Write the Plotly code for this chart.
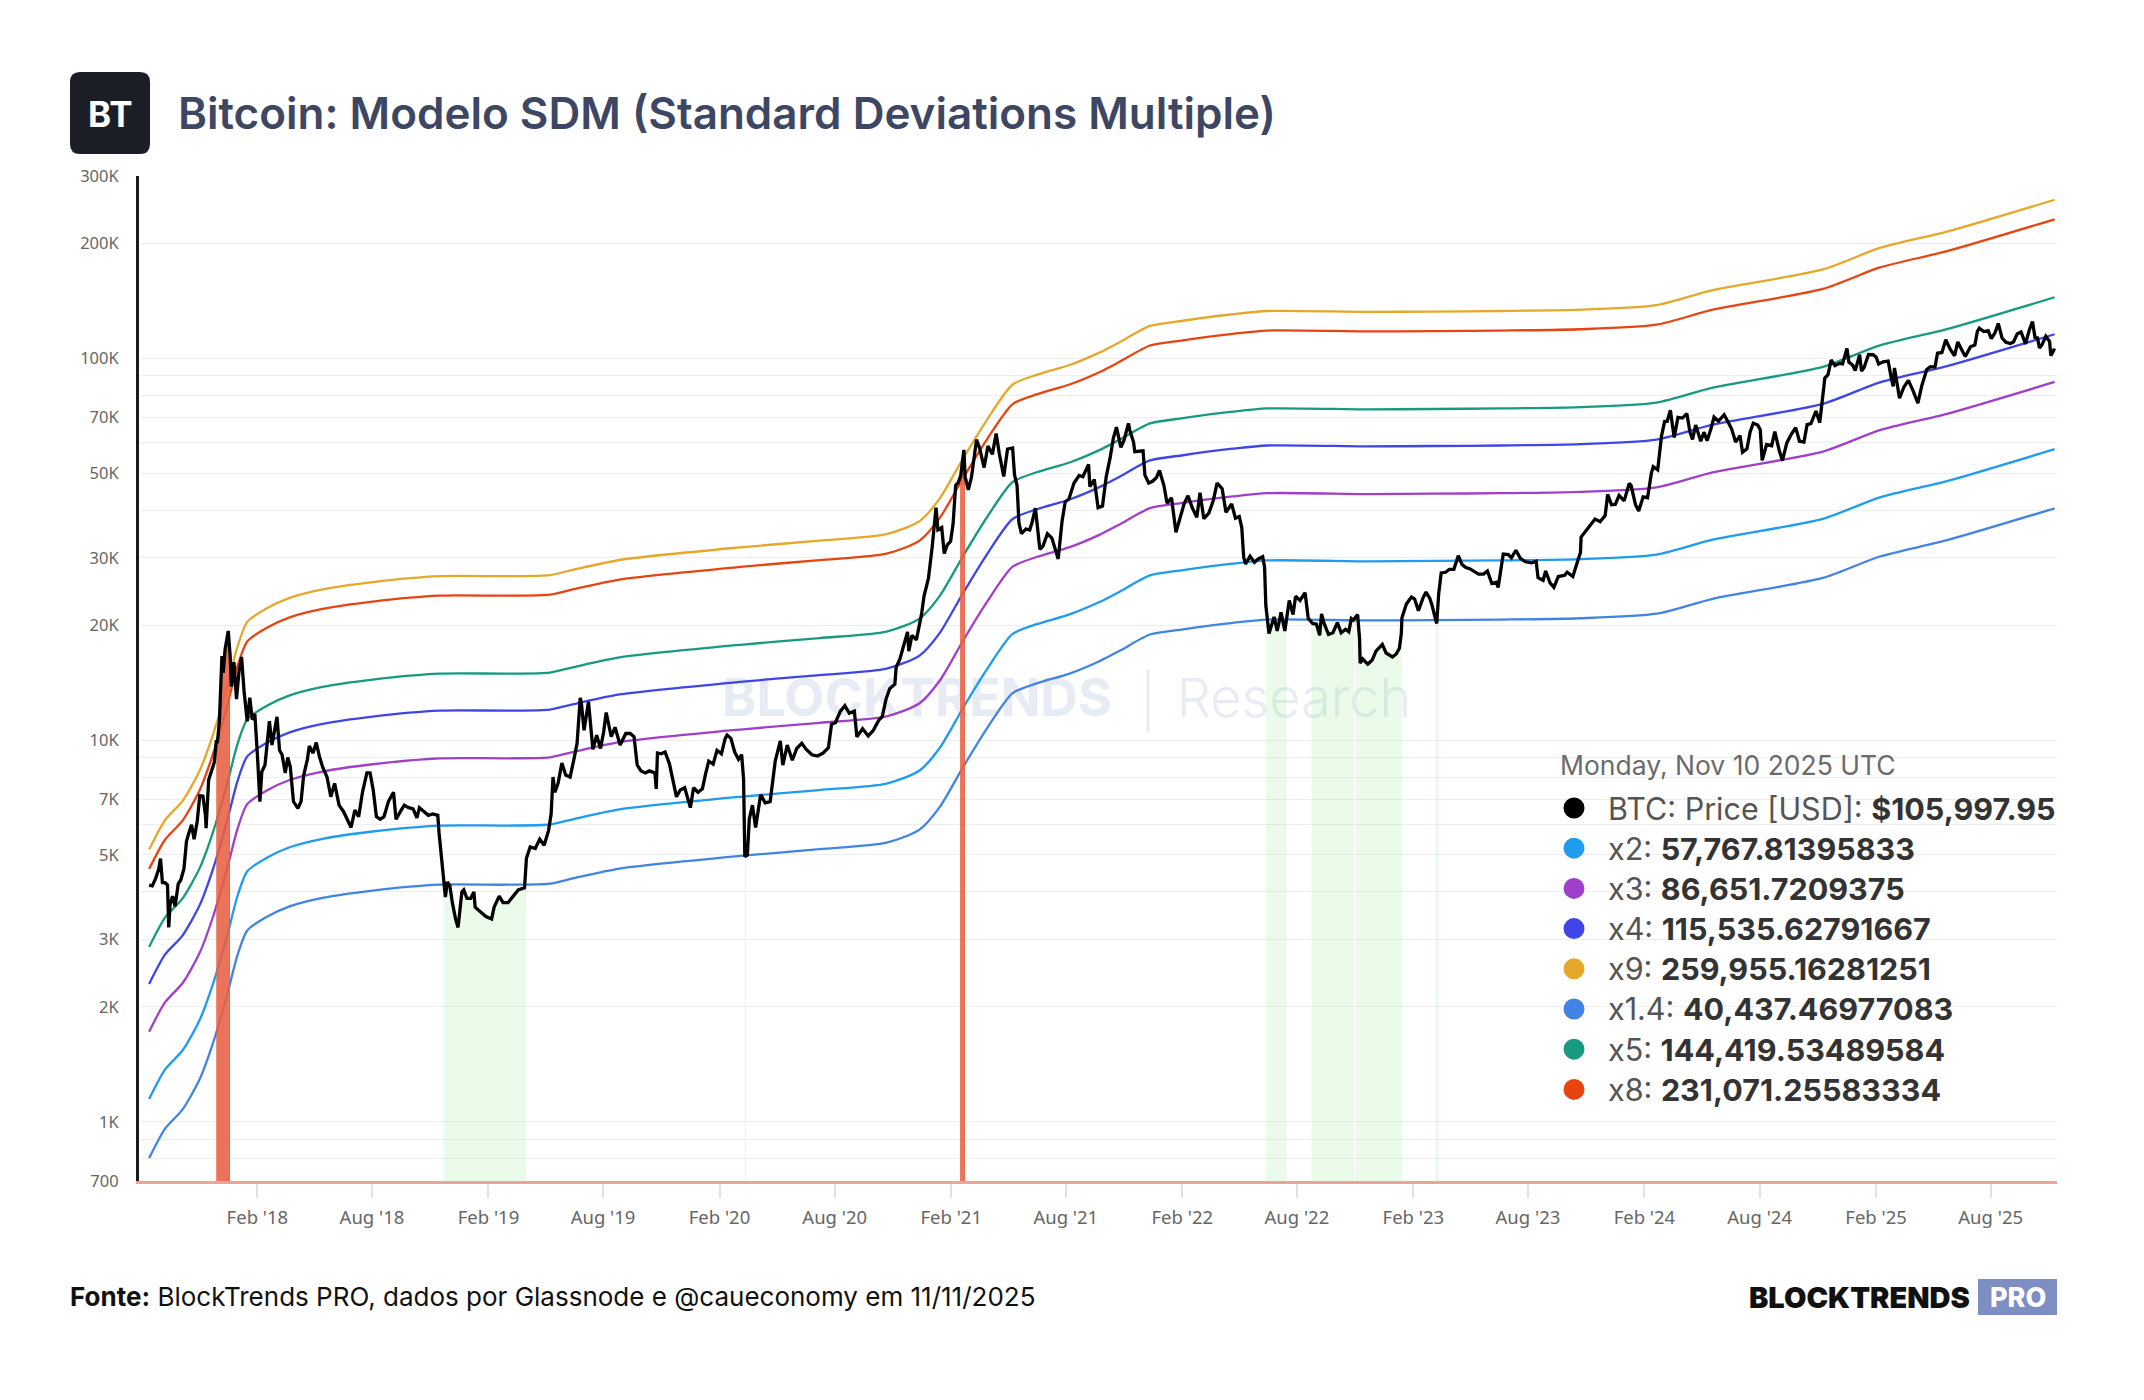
import numpy as np
import pandas as pd
import plotly.graph_objects as go

# ---------------- DATA ----------------
btc_2017 = [("2017-08-14", 4170), ("2017-08-19", 4150), ("2017-08-24", 4330), ("2017-08-29", 4580),
            ("2017-09-01", 4890), ("2017-09-04", 4230), ("2017-09-08", 4230), ("2017-09-12", 4170),
            ("2017-09-14", 3230), ("2017-09-16", 3700), ("2017-09-20", 3900), ("2017-09-24", 3670),
            ("2017-09-29", 4200), ("2017-10-03", 4300), ("2017-10-08", 4600), ("2017-10-12", 5430),
            ("2017-10-16", 5730), ("2017-10-20", 6000), ("2017-10-24", 5500), ("2017-10-29", 6130),
            ("2017-11-02", 7150), ("2017-11-07", 7130), ("2017-11-11", 6350), ("2017-11-12", 5880),
            ("2017-11-16", 7860), ("2017-11-20", 8200), ("2017-11-25", 8750), ("2017-11-28", 9900),
            ("2017-11-30", 9900), ("2017-12-03", 11200), ("2017-12-07", 16600), ("2017-12-09", 15000),
            ("2017-12-12", 17300), ("2017-12-17", 19300), ("2017-12-20", 16600), ("2017-12-22", 13800),
            ("2017-12-26", 16000), ("2017-12-30", 12800)]
btc_2018 = [("2018-01-03", 15150), ("2018-01-07", 16500), ("2018-01-11", 13400), ("2018-01-16", 11200),
            ("2018-01-20", 12900), ("2018-01-24", 11300), ("2018-01-28", 11700), ("2018-02-01", 9170),
            ("2018-02-05", 6900), ("2018-02-08", 8260), ("2018-02-13", 8600), ("2018-02-20", 11200),
            ("2018-02-24", 9700), ("2018-03-04", 11500), ("2018-03-08", 9400), ("2018-03-12", 9150),
            ("2018-03-17", 8200), ("2018-03-21", 9000), ("2018-03-25", 8500), ("2018-03-30", 6900),
            ("2018-04-06", 6620), ("2018-04-11", 6900), ("2018-04-15", 8060), ("2018-04-21", 8900),
            ("2018-04-24", 9650), ("2018-04-30", 9240), ("2018-05-05", 9850), ("2018-05-10", 9050),
            ("2018-05-15", 8500), ("2018-05-22", 8000), ("2018-05-28", 7100), ("2018-06-03", 7700),
            ("2018-06-10", 6750), ("2018-06-17", 6500), ("2018-06-24", 6150), ("2018-06-29", 5900),
            ("2018-07-05", 6550), ("2018-07-11", 6300), ("2018-07-17", 7300), ("2018-07-24", 8200),
            ("2018-07-29", 8200), ("2018-08-03", 7400), ("2018-08-08", 6300), ("2018-08-14", 6200),
            ("2018-08-20", 6300), ("2018-08-27", 6900), ("2018-09-04", 7300), ("2018-09-08", 6200),
            ("2018-09-15", 6500), ("2018-09-21", 6750), ("2018-09-28", 6650), ("2018-10-05", 6600),
            ("2018-10-11", 6250), ("2018-10-15", 6650), ("2018-10-22", 6500), ("2018-10-29", 6350),
            ("2018-11-05", 6400), ("2018-11-13", 6350), ("2018-11-15", 5700), ("2018-11-19", 4800),
            ("2018-11-22", 4400), ("2018-11-25", 3880), ("2018-11-28", 4250), ("2018-12-02", 4150),
            ("2018-12-06", 3750), ("2018-12-11", 3400), ("2018-12-15", 3230), ("2018-12-18", 3550),
            ("2018-12-21", 4000), ("2018-12-24", 4050), ("2018-12-29", 3850)]
btc_2019 = [("2019-01-04", 3850), ("2019-01-09", 4000), ("2019-01-11", 3650), ("2019-01-20", 3550),
            ("2019-01-28", 3450), ("2019-02-06", 3400), ("2019-02-10", 3650), ("2019-02-18", 3900),
            ("2019-02-24", 3750), ("2019-03-04", 3750), ("2019-03-12", 3900), ("2019-03-20", 4050),
            ("2019-03-30", 4100), ("2019-04-02", 4900), ("2019-04-08", 5250), ("2019-04-16", 5200),
            ("2019-04-23", 5500), ("2019-04-30", 5300), ("2019-05-07", 5800), ("2019-05-11", 6400),
            ("2019-05-14", 8000), ("2019-05-17", 7300), ("2019-05-22", 7700), ("2019-05-28", 8700),
            ("2019-06-03", 8100), ("2019-06-10", 8000), ("2019-06-16", 8900), ("2019-06-21", 9800),
            ("2019-06-26", 12900), ("2019-06-28", 12400), ("2019-07-02", 10600), ("2019-07-09", 12600),
            ("2019-07-16", 9450), ("2019-07-22", 10300), ("2019-07-28", 9500), ("2019-08-02", 10500),
            ("2019-08-06", 11800), ("2019-08-14", 10200), ("2019-08-20", 10800), ("2019-08-28", 9700),
            ("2019-09-06", 10400), ("2019-09-13", 10400), ("2019-09-19", 10200), ("2019-09-24", 8600),
            ("2019-09-30", 8300), ("2019-10-07", 8200), ("2019-10-13", 8300), ("2019-10-22", 8200),
            ("2019-10-24", 7450), ("2019-10-26", 9250), ("2019-11-01", 9200), ("2019-11-07", 9300),
            ("2019-11-14", 8650), ("2019-11-22", 7600), ("2019-11-25", 7100), ("2019-12-01", 7400),
            ("2019-12-08", 7500), ("2019-12-17", 6650), ("2019-12-22", 7500), ("2019-12-29", 7300)]
btc_2020 = [("2020-01-05", 7450), ("2020-01-10", 8150), ("2020-01-15", 8800), ("2020-01-22", 8650),
            ("2020-01-28", 9400), ("2020-02-04", 9200), ("2020-02-10", 10100), ("2020-02-13", 10300),
            ("2020-02-19", 10100), ("2020-02-25", 9300), ("2020-03-02", 8900), ("2020-03-07", 9150),
            ("2020-03-10", 7900), ("2020-03-12", 4950), ("2020-03-16", 5000), ("2020-03-19", 6200),
            ("2020-03-24", 6750), ("2020-03-29", 5900), ("2020-04-06", 7200), ("2020-04-13", 6850),
            ("2020-04-21", 6900), ("2020-04-29", 8800), ("2020-05-07", 9950), ("2020-05-11", 8600),
            ("2020-05-18", 9700), ("2020-05-26", 8850), ("2020-06-02", 9500), ("2020-06-10", 9800),
            ("2020-06-17", 9450), ("2020-06-26", 9150), ("2020-07-05", 9080), ("2020-07-14", 9250),
            ("2020-07-22", 9550), ("2020-07-27", 11000), ("2020-08-02", 11100), ("2020-08-10", 11900),
            ("2020-08-17", 12300), ("2020-08-24", 11750), ("2020-09-01", 11900), ("2020-09-05", 10200),
            ("2020-09-14", 10700), ("2020-09-23", 10250), ("2020-10-01", 10600), ("2020-10-10", 11300),
            ("2020-10-15", 11500), ("2020-10-21", 12800), ("2020-10-27", 13650), ("2020-11-04", 14000),
            ("2020-11-06", 15500), ("2020-11-12", 16300), ("2020-11-18", 17800), ("2020-11-24", 19200),
            ("2020-11-26", 17100), ("2020-12-01", 18800), ("2020-12-08", 18300), ("2020-12-16", 21300),
            ("2020-12-20", 23800), ("2020-12-27", 26500)]
btc_2021 = [("2021-01-02", 32100), ("2021-01-08", 40600), ("2021-01-11", 35500), ("2021-01-17", 36000),
            ("2021-01-21", 30800), ("2021-01-26", 32500), ("2021-01-31", 33100), ("2021-02-04", 36900),
            ("2021-02-08", 46400), ("2021-02-12", 47200), ("2021-02-16", 49200), ("2021-02-21", 57500),
            ("2021-02-23", 48900), ("2021-02-28", 45200), ("2021-03-05", 48800), ("2021-03-13", 61200),
            ("2021-03-18", 58000), ("2021-03-25", 51700), ("2021-03-31", 58900), ("2021-04-07", 56000),
            ("2021-04-13", 63500), ("2021-04-18", 56200), ("2021-04-25", 49000), ("2021-05-01", 57800),
            ("2021-05-09", 58200), ("2021-05-12", 49500), ("2021-05-16", 46400), ("2021-05-19", 37000),
            ("2021-05-23", 34700), ("2021-05-30", 35700), ("2021-06-05", 35500), ("2021-06-09", 37300),
            ("2021-06-14", 40500), ("2021-06-21", 31600), ("2021-06-26", 32200), ("2021-07-03", 34700),
            ("2021-07-10", 33800), ("2021-07-15", 31800), ("2021-07-20", 29800), ("2021-07-26", 37300),
            ("2021-07-31", 42000), ("2021-08-06", 42800), ("2021-08-14", 47100), ("2021-08-22", 49300),
            ("2021-08-28", 48900), ("2021-09-06", 52700), ("2021-09-08", 46100), ("2021-09-15", 48100),
            ("2021-09-21", 40600), ("2021-09-28", 41000), ("2021-10-04", 49100), ("2021-10-10", 54800),
            ("2021-10-15", 61600), ("2021-10-20", 66000), ("2021-10-27", 58400), ("2021-11-01", 61000),
            ("2021-11-08", 67500), ("2021-11-10", 64900), ("2021-11-16", 60300), ("2021-11-18", 56900),
            ("2021-11-24", 57100), ("2021-12-01", 57200), ("2021-12-04", 49400), ("2021-12-10", 47100),
            ("2021-12-16", 47600), ("2021-12-22", 48600), ("2021-12-27", 50800)]
btc_2022 = [("2022-01-03", 46400), ("2022-01-08", 41700), ("2022-01-15", 43100), ("2022-01-22", 35000),
            ("2022-01-28", 37700), ("2022-02-04", 41600), ("2022-02-10", 43600), ("2022-02-17", 40500),
            ("2022-02-24", 38300), ("2022-03-01", 44400), ("2022-03-07", 38000), ("2022-03-15", 39300),
            ("2022-03-22", 42400), ("2022-03-28", 47100), ("2022-04-05", 45500), ("2022-04-11", 39500),
            ("2022-04-20", 41500), ("2022-04-26", 38100), ("2022-05-02", 38500), ("2022-05-06", 36000),
            ("2022-05-09", 30100), ("2022-05-12", 28900), ("2022-05-19", 30300), ("2022-05-26", 29200),
            ("2022-06-01", 29800), ("2022-06-08", 30200), ("2022-06-11", 28400), ("2022-06-13", 22500),
            ("2022-06-18", 19000), ("2022-06-22", 20000), ("2022-06-26", 21000), ("2022-07-01", 19300),
            ("2022-07-07", 21600), ("2022-07-13", 19300), ("2022-07-20", 23200), ("2022-07-26", 21300),
            ("2022-07-30", 23800), ("2022-08-06", 23200), ("2022-08-14", 24300), ("2022-08-19", 20800),
            ("2022-08-26", 20200), ("2022-09-01", 20100), ("2022-09-06", 18800), ("2022-09-09", 21400),
            ("2022-09-13", 20200), ("2022-09-20", 18900), ("2022-09-27", 19100), ("2022-10-04", 20300),
            ("2022-10-10", 19100), ("2022-10-17", 19500), ("2022-10-22", 19200), ("2022-10-26", 20800),
            ("2022-10-29", 20600), ("2022-11-05", 21300), ("2022-11-08", 18500), ("2022-11-09", 15900),
            ("2022-11-13", 16300), ("2022-11-21", 15800), ("2022-11-28", 16200), ("2022-12-04", 17100),
            ("2022-12-14", 17800), ("2022-12-20", 16900), ("2022-12-30", 16500)]
btc_2023 = [("2023-01-05", 16800), ("2023-01-10", 17400), ("2023-01-13", 19000), ("2023-01-14", 20900),
            ("2023-01-21", 22700), ("2023-01-29", 23700), ("2023-02-03", 23400), ("2023-02-09", 21800),
            ("2023-02-16", 23500), ("2023-02-21", 24400), ("2023-02-27", 23500), ("2023-03-03", 22400),
            ("2023-03-09", 20400), ("2023-03-10", 20200), ("2023-03-13", 24100), ("2023-03-17", 27400),
            ("2023-03-24", 27500), ("2023-03-30", 28000), ("2023-04-06", 28000), ("2023-04-13", 30400),
            ("2023-04-19", 28800), ("2023-04-25", 28300), ("2023-05-01", 28100), ("2023-05-08", 27700),
            ("2023-05-15", 27200), ("2023-05-23", 27200), ("2023-05-29", 27700), ("2023-06-05", 25700),
            ("2023-06-12", 25900), ("2023-06-15", 25100), ("2023-06-20", 28300), ("2023-06-23", 30700),
            ("2023-07-01", 30600), ("2023-07-06", 30000), ("2023-07-13", 31400), ("2023-07-20", 29900),
            ("2023-07-28", 29300), ("2023-08-07", 29100), ("2023-08-14", 29400), ("2023-08-17", 26600),
            ("2023-08-25", 26200), ("2023-08-29", 27700), ("2023-09-05", 25800), ("2023-09-11", 25100),
            ("2023-09-18", 26800), ("2023-09-28", 27000), ("2023-10-02", 27500), ("2023-10-11", 26800),
            ("2023-10-16", 28500), ("2023-10-20", 29700), ("2023-10-23", 31000), ("2023-10-24", 34000),
            ("2023-11-01", 35400), ("2023-11-09", 36700), ("2023-11-15", 37900), ("2023-11-23", 37300),
            ("2023-12-01", 38700), ("2023-12-05", 44000), ("2023-12-11", 41300), ("2023-12-17", 41400),
            ("2023-12-23", 43700), ("2023-12-31", 42300)]
btc_2024 = [("2024-01-08", 47000), ("2024-01-11", 46400), ("2024-01-18", 41300), ("2024-01-23", 39800),
            ("2024-01-30", 43300), ("2024-02-06", 43100), ("2024-02-12", 50000), ("2024-02-15", 52000),
            ("2024-02-22", 51000), ("2024-02-28", 62500), ("2024-03-04", 68300), ("2024-03-08", 68300),
            ("2024-03-13", 73100), ("2024-03-19", 62000), ("2024-03-25", 70000), ("2024-04-01", 69700),
            ("2024-04-08", 71600), ("2024-04-13", 64000), ("2024-04-17", 61300), ("2024-04-22", 66800),
            ("2024-04-30", 60600), ("2024-05-05", 64000), ("2024-05-10", 60800), ("2024-05-16", 65200),
            ("2024-05-21", 70100), ("2024-05-28", 68400), ("2024-06-06", 71100), ("2024-06-12", 68200),
            ("2024-06-18", 65100), ("2024-06-24", 60300), ("2024-07-01", 62700), ("2024-07-05", 56700),
            ("2024-07-12", 57900), ("2024-07-17", 64100), ("2024-07-22", 67600), ("2024-07-29", 66800),
            ("2024-08-02", 65000), ("2024-08-05", 54000), ("2024-08-12", 59400), ("2024-08-20", 59000),
            ("2024-08-25", 64200), ("2024-09-01", 57300), ("2024-09-06", 53900), ("2024-09-13", 60000),
            ("2024-09-20", 63200), ("2024-09-27", 65800), ("2024-10-03", 60600), ("2024-10-10", 60300),
            ("2024-10-15", 67000), ("2024-10-21", 67400), ("2024-10-29", 72700), ("2024-11-04", 67800),
            ("2024-11-07", 75800), ("2024-11-12", 88700), ("2024-11-17", 90500), ("2024-11-22", 98900),
            ("2024-11-28", 95600), ("2024-12-05", 96900), ("2024-12-10", 96600), ("2024-12-17", 106100),
            ("2024-12-20", 97700), ("2024-12-26", 95800), ("2024-12-30", 92800)]
btc_2025 = [("2025-01-06", 102100), ("2025-01-09", 92500), ("2025-01-13", 94500), ("2025-01-20", 102200),
            ("2025-01-27", 102100), ("2025-02-01", 100700), ("2025-02-05", 96600), ("2025-02-12", 97800),
            ("2025-02-20", 98300), ("2025-02-25", 88700), ("2025-02-28", 84400), ("2025-03-02", 94300),
            ("2025-03-10", 78600), ("2025-03-17", 84100), ("2025-03-24", 87500), ("2025-03-31", 82500),
            ("2025-04-06", 78400), ("2025-04-08", 76300), ("2025-04-14", 84500), ("2025-04-22", 93400),
            ("2025-04-28", 95000), ("2025-05-05", 94800), ("2025-05-09", 103000), ("2025-05-16", 103500),
            ("2025-05-22", 111700), ("2025-05-29", 105600), ("2025-06-05", 101500), ("2025-06-10", 110300),
            ("2025-06-17", 104600), ("2025-06-22", 101000), ("2025-06-30", 107100), ("2025-07-07", 108200),
            ("2025-07-11", 117500), ("2025-07-14", 119800), ("2025-07-21", 117400), ("2025-07-28", 118000),
            ("2025-08-02", 112500), ("2025-08-08", 116700), ("2025-08-13", 123300), ("2025-08-19", 112900),
            ("2025-08-25", 110100), ("2025-09-01", 109200), ("2025-09-06", 110200), ("2025-09-12", 115900),
            ("2025-09-18", 117100), ("2025-09-25", 109000), ("2025-10-01", 118600), ("2025-10-06", 124700),
            ("2025-10-10", 113200), ("2025-10-14", 113000), ("2025-10-17", 106400), ("2025-10-21", 108400),
            ("2025-10-27", 114100), ("2025-11-02", 110600), ("2025-11-04", 101500), ("2025-11-07", 103300),
            ("2025-11-10", 105998)]

# SDM base (x1) curve; each band = base * multiplier
sdm_base_dates = ["2017-08-14", "2017-09-08", "2017-10-06", "2017-11-02", "2017-11-23", "2017-12-15",
                  "2017-12-31", "2018-01-16", "2018-02-16", "2018-03-24", "2018-05-15", "2018-08-02",
                  "2018-11-16", "2019-03-02", "2019-05-09", "2019-06-14", "2019-08-27", "2020-03-09",
                  "2020-07-08", "2020-10-22", "2020-12-13", "2021-01-14", "2021-02-19", "2021-03-29",
                  "2021-05-09", "2021-06-16", "2021-08-07", "2021-09-23", "2021-10-25", "2021-12-12",
                  "2022-02-02", "2022-04-22", "2022-06-15", "2022-11-20", "2023-03-04", "2023-06-18",
                  "2023-10-22", "2024-02-20", "2024-05-19", "2024-11-09", "2025-02-07", "2025-05-24",
                  "2025-11-10"]
sdm_base_usd = [574, 685, 770, 925, 1150, 1530,
                1937, 2265, 2460, 2619, 2756, 2880,
                2985, 2985, 3004, 3099, 3290, 3556,
                3698, 3846, 4160, 4771, 6038, 7640,
                9480, 10052, 10663, 11487, 12231, 13494,
                13924, 14481, 14768, 14690, 14720, 14768,
                14884, 15297, 16741, 18982, 21603, 23831,
                28884]

sdm_names = ["x2", "x3", "x4", "x9", "x1.4", "x5", "x8"]
sdm_multipliers = [2, 3, 4, 9, 1.4, 5, 8]
sdm_colors = ["#1f9bf0", "#a03fc9", "#3f45e6", "#e6a82a", "#4184e4", "#179a80", "#e8440f"]
legend_date = "Monday, Nov 10 2025 UTC"
legend_price = "$105,997.95"
legend_values = ["57,767.81395833", "86,651.7209375", "115,535.62791667", "259,955.16281251",
                 "40,437.46977083", "144,419.53489584", "231,071.25583334"]

overvalued_zones = [("2017-11-28", "2017-12-19"), ("2021-02-15", "2021-02-22")]
undervalued_zones = [("2018-11-22", "2019-03-31"), ("2020-03-12", "2020-03-13"),
                     ("2022-06-13", "2022-07-15"), ("2022-08-24", "2022-10-29"),
                     ("2022-11-01", "2023-01-13"), ("2023-03-08", "2023-03-12")]

x_tick_vals = ["2018-02-01", "2018-08-01", "2019-02-01", "2019-08-01", "2020-02-01", "2020-08-01",
               "2021-02-01", "2021-08-01", "2022-02-01", "2022-08-01", "2023-02-01", "2023-08-01",
               "2024-02-01", "2024-08-01", "2025-02-01", "2025-08-01"]
x_tick_text = ["Feb '18", "Aug '18", "Feb '19", "Aug '19", "Feb '20", "Aug '20", "Feb '21", "Aug '21",
               "Feb '22", "Aug '22", "Feb '23", "Aug '23", "Feb '24", "Aug '24", "Feb '25", "Aug '25"]
y_tick_vals = [700, 1000, 2000, 3000, 5000, 7000, 10000, 20000, 30000, 50000, 70000, 100000, 200000, 300000]
y_tick_text = ["700", "1K", "2K", "3K", "5K", "7K", "10K", "20K", "30K", "50K", "70K", "100K", "200K", "300K"]
y_minor_vals = [800, 900, 4000, 6000, 8000, 9000, 40000, 60000, 80000, 90000]

# ---------------- GEOMETRY ----------------
W, H = 2144, 1400
L, R, T, B = 139, 2057, 176, 1181
x_range = ["2017-07-29", "2025-11-13 18:00"]
y_range = [np.log10(700), np.log10(300000)]
FONT = "Inter, 'Noto Sans', sans-serif"


def px2x(px):
    return (px - L) / (R - L)


def py2y(py):
    return (B - py) / (B - T)


def px2date(px):
    a, b = pd.Timestamp(x_range[0]), pd.Timestamp(x_range[1])
    return a + (b - a) * ((px - L) / (R - L))


def py2val(py):
    return 10 ** (y_range[0] + (B - py) / (B - T) * (y_range[1] - y_range[0]))


btc = btc_2017 + btc_2018 + btc_2019 + btc_2020 + btc_2021 + btc_2022 + btc_2023 + btc_2024 + btc_2025
price_dates = pd.to_datetime([d for d, _ in btc])
price_usd = np.array([v for _, v in btc], dtype=float)
base_dates = pd.to_datetime(sdm_base_dates)
base_usd = np.array(sdm_base_usd, dtype=float)

fig = go.Figure()

# watermark (below data)
fig.add_trace(go.Scatter(x=[px2date(917)], y=[py2val(703)], mode="text", text=["<b>BLOCKTRENDS</b>"],
                         textfont=dict(size=52, color="#e7ebf3", family=FONT), hoverinfo="skip"))
fig.add_trace(go.Scatter(x=[px2date(1294)], y=[py2val(703)], mode="text", text=["Research"],
                         textfont=dict(size=54, color="#e7ebf3", family=FONT, weight=300), hoverinfo="skip"))

# SDM bands
for name, mult, col in zip(sdm_names, sdm_multipliers, sdm_colors):
    fig.add_trace(go.Scatter(x=base_dates, y=base_usd * mult, mode="lines", name=name,
                             line=dict(color=col, width=2.3, shape="spline", smoothing=0.7),
                             hoverinfo="skip"))

# zones: filled from bottom up to the price line
t_num = price_dates.values.astype("datetime64[s]").astype(np.int64)
logp = np.log10(price_usd)


def zone_poly(start, end):
    s = pd.Timestamp(start)
    e = pd.Timestamp(end)
    sn, en = s.value // 10**9, e.value // 10**9
    mask = (t_num > sn) & (t_num < en)
    xs = [s] + list(price_dates[mask]) + [e]
    ys = [10 ** np.interp(sn, t_num, logp)] + list(price_usd[mask]) + [10 ** np.interp(en, t_num, logp)]
    bottom = 10 ** (y_range[0] - 0.05)
    return xs + [e, s], ys + [bottom, bottom]


for s, e in undervalued_zones:
    xs, ys = zone_poly(s, e)
    fig.add_trace(go.Scatter(x=xs, y=ys, mode="lines", fill="toself", line=dict(width=0.6, color="rgba(150,235,150,0.25)"),
                             fillcolor="rgba(150,235,150,0.2)", hoverinfo="skip"))
for s, e in overvalued_zones:
    xs, ys = zone_poly(s, e)
    fig.add_trace(go.Scatter(x=xs, y=ys, mode="lines", fill="toself", line=dict(width=1, color="rgba(232,96,66,0.88)"),
                             fillcolor="rgba(232,96,66,0.88)", hoverinfo="skip"))

# price
fig.add_trace(go.Scatter(x=price_dates, y=price_usd, mode="lines", name="BTC: Price [USD]",
                         line=dict(color="#000000", width=3.3), hoverinfo="skip"))

# ---------------- LAYOUT ----------------
fig.update_layout(
    width=W, height=H, margin=dict(l=L, r=W - R, t=T, b=H - B),
    paper_bgcolor="white", plot_bgcolor="white", showlegend=False,
    font=dict(family=FONT),
    xaxis=dict(type="date", range=x_range, showgrid=False, zeroline=False,
               tickmode="array", tickvals=x_tick_vals, ticktext=x_tick_text,
               ticks="outside", ticklen=14, tickwidth=1.5, tickcolor="#e2e2e2",
               showline=True, linecolor="#eca39a", linewidth=3, ticklabelstandoff=4,
               tickfont=dict(size=18.5, color="#666666", family="'Noto Sans', sans-serif")),
    yaxis=dict(type="log", range=y_range, tickmode="array", tickvals=y_tick_vals, ticktext=y_tick_text,
               showgrid=True, gridcolor="#eeeeee", gridwidth=1, zeroline=False,
               minor=dict(tickmode="array", tickvals=y_minor_vals, showgrid=True, gridcolor="#eeeeee", ticks=""),
               showline=True, linecolor="#1a1a1a", linewidth=3, ticks="", ticklabelstandoff=14,
               tickfont=dict(size=16.5, color="#666666", family="'Noto Sans', sans-serif")),
)

shapes = []
annotations = []


def rounded_rect(x0, y0, x1, y1, r):
    pts = [
        ("M", (x0 + r, y0)), ("L", (x1 - r, y0)), ("Q", (x1, y0), (x1, y0 + r)),
        ("L", (x1, y1 - r)), ("Q", (x1, y1), (x1 - r, y1)), ("L", (x0 + r, y1)),
        ("Q", (x0, y1), (x0, y1 - r)), ("L", (x0, y0 + r)), ("Q", (x0, y0), (x0 + r, y0)),
    ]
    out = []
    for item in pts:
        cmd = item[0]
        coords = " ".join(f"{px2x(p[0]):.6f},{py2y(p[1]):.6f}" for p in item[1:])
        out.append(f"{cmd} {coords}")
    return " ".join(out) + " Z"


# header logo + title
shapes.append(dict(type="path", xref="paper", yref="paper", path=rounded_rect(70, 72, 150, 154, 10),
                   fillcolor="#1b1e25", line=dict(width=0), layer="above"))
annotations.append(dict(x=px2x(110), y=py2y(114), xref="paper", yref="paper", text="<b>BT</b>",
                        showarrow=False, font=dict(size=35, color="white", family=FONT, weight=800),
                        xanchor="center", yanchor="middle"))
annotations.append(dict(x=px2x(176), y=py2y(113), xref="paper", yref="paper",
                        text="Bitcoin: Modelo SDM (Standard Deviations Multiple)", showarrow=False,
                        font=dict(size=44, color="#3d4663", family=FONT, weight=600),
                        xanchor="left", yanchor="middle"))

# watermark divider
shapes.append(dict(type="line", xref="paper", yref="paper", x0=px2x(1148), x1=px2x(1148),
                   y0=py2y(670), y1=py2y(732), line=dict(color="#e7ebf3", width=3), layer="below"))

# hover-style legend box
shapes.append(dict(type="rect", xref="paper", yref="paper", x0=px2x(1547), x1=px2x(2056),
                   y0=py2y(736), y1=py2y(1116), fillcolor="white", line=dict(width=0), layer="between"))
annotations.append(dict(x=px2x(1558), y=py2y(765), xref="paper", yref="paper", text=legend_date,
                        showarrow=False, xanchor="left", yanchor="middle",
                        font=dict(size=26.5, color="#6b6b6b", family=FONT)))
rows = [("BTC: Price [USD]", legend_price, "#000000")] + \
       [(n, v, c) for n, v, c in zip(sdm_names, legend_values, sdm_colors)]
for i, (lab, val, col) in enumerate(rows):
    yc = 808 + i * 40.2
    shapes.append(dict(type="circle", xref="paper", yref="paper", xsizemode="pixel", ysizemode="pixel",
                       xanchor=px2x(1574), yanchor=py2y(yc), x0=-10.5, x1=10.5, y0=-10.5, y1=10.5,
                       fillcolor=col, line=dict(width=0), layer="above"))
    annotations.append(dict(x=px2x(1606), y=py2y(yc), xref="paper", yref="paper",
                            text=f"<span style='color:#555555'>{lab}: </span><b>{val}</b>",
                            showarrow=False, xanchor="left", yanchor="middle",
                            font=dict(size=30.5, color="#333333", family=FONT)))

# footer
annotations.append(dict(x=px2x(68), y=py2y(1296), xref="paper", yref="paper",
                        text="<b>Fonte:</b> BlockTrends PRO, dados por Glassnode e @caueconomy em 11/11/2025",
                        showarrow=False, xanchor="left", yanchor="middle",
                        font=dict(size=26, color="#111111", family=FONT)))
annotations.append(dict(x=px2x(1972), y=py2y(1297), xref="paper", yref="paper", text="BLOCKTRENDS",
                        showarrow=False, xanchor="right", yanchor="middle",
                        font=dict(size=29, color="#111111", family=FONT, weight=900)))
shapes.append(dict(type="rect", xref="paper", yref="paper", x0=px2x(1978), x1=px2x(2057),
                   y0=py2y(1279), y1=py2y(1315), fillcolor="#7d8ec2", line=dict(width=0), layer="above"))
annotations.append(dict(x=px2x(2017.5), y=py2y(1297), xref="paper", yref="paper", text="PRO",
                        showarrow=False, xanchor="center", yanchor="middle",
                        font=dict(size=27, color="white", family=FONT, weight=800)))

fig.update_layout(shapes=shapes, annotations=annotations)
fig.write_html("out.html")
